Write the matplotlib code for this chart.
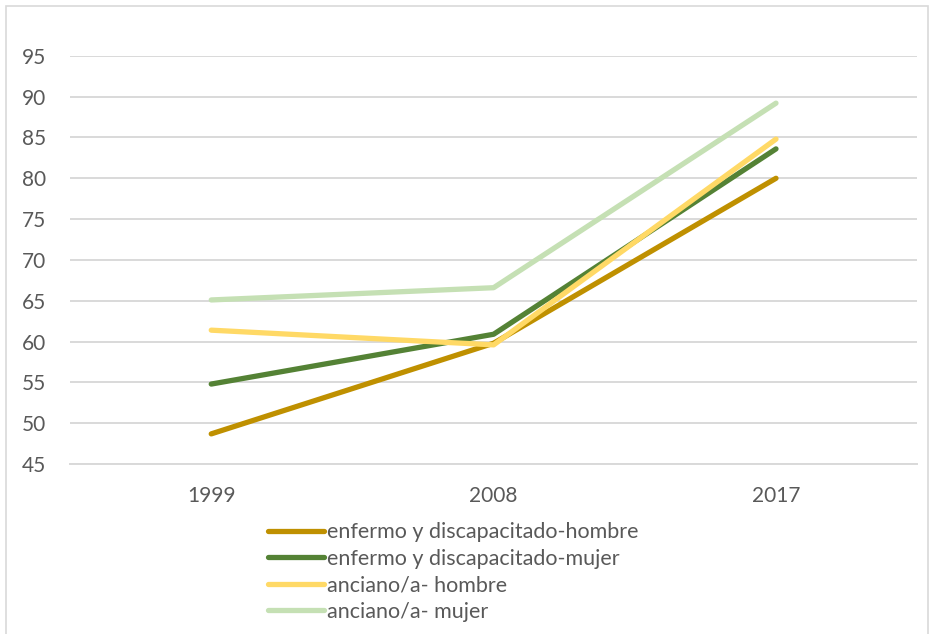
import matplotlib
matplotlib.use("Agg")
import matplotlib.pyplot as plt
from matplotlib.patches import Rectangle

years = ["1999", "2008", "2017"]
enfermo_hombre = [48.7, 59.8, 80.0]
enfermo_mujer = [54.8, 60.9, 83.6]
anciano_hombre = [61.4, 59.6, 84.8]
anciano_mujer = [65.1, 66.6, 89.2]

series = [
    ("enfermo y discapacitado-hombre", enfermo_hombre, "#BF9000"),
    ("enfermo y discapacitado-mujer", enfermo_mujer, "#548235"),
    ("anciano/a- hombre", anciano_hombre, "#FFD966"),
    ("anciano/a- mujer", anciano_mujer, "#C5E0B4"),
]
y_ticks = list(range(45, 100, 5))

plt.rcParams["font.family"] = ["Lato", "DejaVu Sans"]
text_color = "#595959"

fig = plt.figure(figsize=(9.34, 6.34), dpi=100)
ax = fig.add_axes([0.075, 0.268, 0.907, 0.644])

x = list(range(len(years)))
for label, vals, color in series:
    ax.plot(x, vals, color=color, lw=3.8, solid_capstyle="round",
            solid_joinstyle="round", label=label)

ax.set_xlim(-0.5, len(years) - 0.5)
ax.set_ylim(45, 95)
ax.set_yticks(y_ticks)
ax.set_xticks(x)
ax.set_xticklabels(years)
ax.yaxis.grid(True, color="#D9D9D9", lw=1.4)
ax.set_axisbelow(True)
for side in ["top", "right", "left"]:
    ax.spines[side].set_visible(False)
ax.spines["bottom"].set_color("#D9D9D9")
ax.spines["bottom"].set_linewidth(1.4)
ax.tick_params(axis="both", length=0, labelsize=15, colors=text_color)
ax.tick_params(axis="y", pad=17)
ax.tick_params(axis="x", pad=16)

leg = fig.legend(loc="upper left", bbox_to_anchor=(0.278, 0.19),
                 frameon=False, fontsize=15.5, handlelength=2.6,
                 handletextpad=0.15, labelspacing=0.3, borderaxespad=0)
for t in leg.get_texts():
    t.set_color(text_color)

fig.patches.append(Rectangle((0.006, -0.01), 0.988, 1.0, transform=fig.transFigure,
                             fill=False, edgecolor="#D9D9D9", lw=1.2))

fig.savefig("out.png", dpi=100)
